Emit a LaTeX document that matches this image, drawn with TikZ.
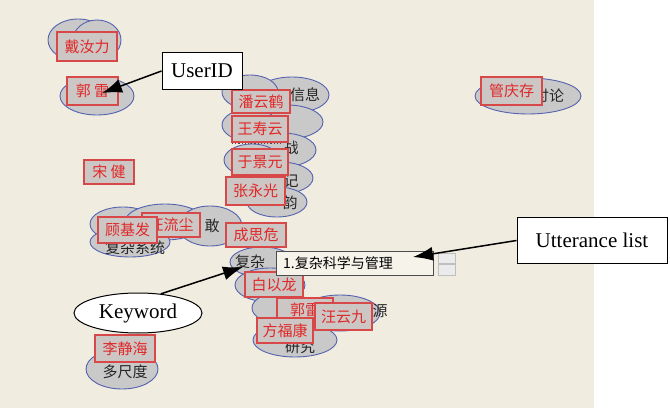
\documentclass[tikz,border=0pt]{standalone}
\usepackage{fontspec}
\setmainfont{Liberation Serif}
\newfontfamily\cjk{Noto Sans CJK SC}
\usetikzlibrary{arrows.meta,shapes.geometric}
\definecolor{bg}{HTML}{F0ECE0}
\definecolor{bubfill}{HTML}{C9C9C9}
\definecolor{bubline}{HTML}{5562B0}
\definecolor{rboxline}{HTML}{D84848}
\definecolor{rboxfill}{HTML}{CCC6C4}
\definecolor{rtext}{HTML}{E02828}
\definecolor{popfill}{HTML}{F6F4EA}
\begin{document}
\begin{tikzpicture}[x=1pt,y=-1pt,
  bub/.style={fill=bubfill,draw=bubline,line width=0.9pt},
  rbox/.style 2 args={draw=rboxline,fill=rboxfill,text=rtext,line width=1.1pt,
    font=\cjk\fontsize{15}{15}\selectfont,inner sep=0pt,minimum width=#1pt,minimum height=#2pt},
  gtext/.style={font=\cjk\fontsize{15}{15}\selectfont,text=black!85,inner sep=0pt},
  anno/.style={draw=black,fill=white,line width=1pt,font=\fontsize{21}{21}\selectfont,inner sep=0pt},
  arr/.style={-{Latex[length=20pt,width=14pt]},line width=1.5pt}
]
\useasboundingbox (0,0) rectangle (670,409);
\fill[bg] (0,0) rectangle (594,408);

% bubbles
\path[bub] (78,40) ellipse [x radius=30pt,y radius=21pt];
\path[bub] (97,40) ellipse [x radius=24pt,y radius=20pt];
\path[bub] (97,96) ellipse [x radius=37pt,y radius=19pt];

\path[bub] (292,95) ellipse [x radius=37pt,y radius=18pt];
\path[bub] (250,92) ellipse [x radius=28pt,y radius=17pt];
\path[bub] (287,122) ellipse [x radius=36pt,y radius=17pt];
\path[bub] (250,125) ellipse [x radius=28pt,y radius=16pt];
\path[bub] (282,150) ellipse [x radius=34pt,y radius=17pt];
\path[bub] (252,160) ellipse [x radius=28pt,y radius=16pt];
\path[bub] (280,178) ellipse [x radius=33pt,y radius=16pt];
\path[bub] (255,190) ellipse [x radius=28pt,y radius=16pt];
\path[bub] (277,202) ellipse [x radius=30pt,y radius=15pt];

\path[bub] (123,224) ellipse [x radius=33pt,y radius=17pt];
\path[bub] (165,222) ellipse [x radius=40pt,y radius=18pt];
\path[bub] (130,242) ellipse [x radius=40pt,y radius=15pt];
\path[bub] (210,226) ellipse [x radius=32pt,y radius=20pt];

\path[bub] (262,262) ellipse [x radius=32pt,y radius=15pt];
\path[bub] (270,285) ellipse [x radius=35pt,y radius=17pt];
\path[bub] (340,313) ellipse [x radius=40pt,y radius=18pt];
\path[bub] (282,308) ellipse [x radius=30pt,y radius=16pt];
\path[bub] (295,340) ellipse [x radius=42pt,y radius=17pt];

\path[bub] (528,96) ellipse [x radius=53pt,y radius=18pt];
\path[bub] (122,369) ellipse [x radius=36pt,y radius=20pt];

% gray texts
\node[gtext] (g1) at (305,95) {信息};
\node[gtext] (g2) at (291,148) {战};
\node[gtext] (g3) at (291,181) {记};
\node[gtext] (g4) at (290,203) {韵};
\node[gtext] (g5) at (212,226) {敢};
\node[gtext] (g6) at (135,248) {复杂系统};
\node[gtext] (g7) at (250,262) {复杂};
\node[gtext] (g8) at (380,311) {源};
\node[gtext] (g9) at (300,347) {研究};
\node[gtext] (g10) at (549,96) {讨论};
\node[gtext] (g11) at (125,372) {多尺度};

% dotted line
\draw[dotted,line width=1.2pt,black!70] (232,143) -- (282,143);

% red boxes
\node[rbox={60}{29}] (b1) at (87,46.5) {戴汝力};
\node[rbox={51}{28}] (b2) at (92.5,91) {郭\ 雷};
\node[rbox={58}{23}] (b3) at (261,101.5) {潘云鹤};
\node[rbox={56}{26}] (b4) at (260,129) {王寿云};
\node[rbox={56}{26}] (b5) at (260,162) {于景元};
\node[rbox={59}{28}] (b6) at (255.5,191) {张永光};
\node[rbox={58}{24}] (b7) at (171,225) {汪流尘};
\node[rbox={59}{26}] (b8) at (127.5,230) {顾基发};
\node[rbox={60}{24}] (b9) at (256,235) {成思危};
\node[rbox={58}{25}] (b10) at (274,284.5) {白以龙};
\node[rbox={56}{24}] (b11) at (305,310) {郭雷};
\node[rbox={57}{27}] (b12) at (343.5,316.5) {汪云九};
\node[rbox={56}{25}] (b13) at (285,330.5) {方福康};
\node[rbox={61}{28}] (b14) at (511.5,91) {管庆存};
\node[rbox={50}{24}] (b15) at (109,172) {宋\ 健};
\node[rbox={60}{27}] (b16) at (125,348.5) {李静海};

% popup utterance list
\node[draw=black!70,fill=popfill,line width=0.8pt,minimum width=157pt,minimum height=24pt,inner sep=0pt] (pop) at (354.5,263) {};
\node[font=\cjk\fontsize{14}{14}\selectfont,anchor=west,inner sep=0pt] (poptext) at (283,263) {1.复杂科学与管理};
\node[draw=black!25,fill=white!92!black,minimum width=17pt,minimum height=10pt,inner sep=0pt] (up) at (446.5,258) {};
\node[draw=black!25,fill=white!92!black,minimum width=17pt,minimum height=11pt,inner sep=0pt] (down) at (446.5,269.5) {};

% annotations
\node[anno,minimum width=80pt,minimum height=37pt] (uid) at (202,71) {UserID};
\node[anno,minimum width=150pt,minimum height=45pt] (ul) at (592,240.5) {Utterance list};
\node[anno,ellipse,minimum width=128pt,minimum height=40pt] (kw) at (138,313) {Keyword};

\coordinate (uidtip) at (102,93);
\coordinate (ultip) at (413,257);
\coordinate (kwtip) at (243,267);
\draw[arr] (uid.west) -- (uidtip);
\draw[arr] (ul.west) -- (ultip);
\draw[arr] (kw.40) -- (kwtip);
\end{tikzpicture}
\end{document}
